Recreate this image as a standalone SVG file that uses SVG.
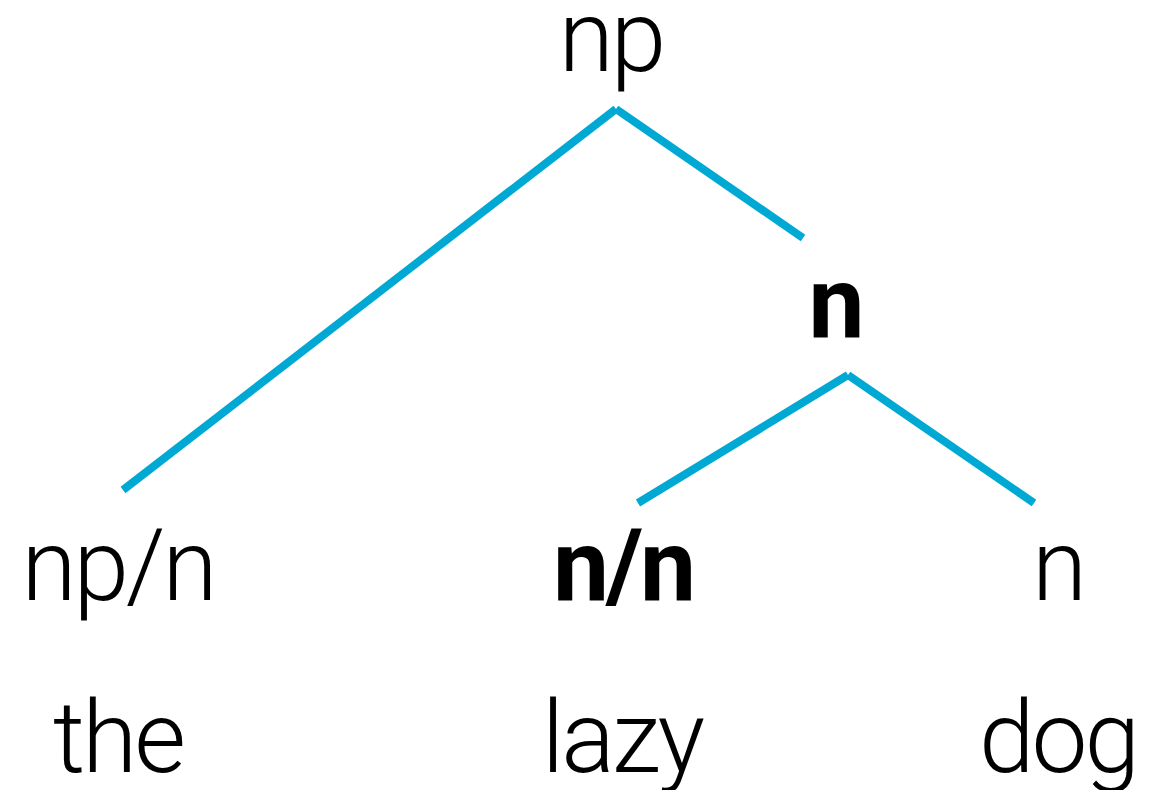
<svg xmlns="http://www.w3.org/2000/svg" width="1169" height="790" viewBox="0 0 1169 790">
<style>
text{font-family:"Roboto","Liberation Sans",sans-serif;font-size:100px;font-weight:300;fill:#000;text-anchor:middle;letter-spacing:-3px}
text.b{font-weight:700}
line{stroke:#00A8D4;stroke-width:8;stroke-linecap:butt}
</style>
<rect width="1169" height="790" fill="#fff"/>
<g id="connectors">
<line x1="616" y1="109" x2="123" y2="490"/>
<line x1="616" y1="109" x2="803" y2="238"/>
<line x1="848" y1="375" x2="638" y2="503"/>
<line x1="848" y1="375" x2="1034" y2="503"/>
</g>
<g id="node-np"><text x="611" y="71">np</text></g>
<g id="node-n-mid"><text class="b" x="835" y="337">n</text></g>
<g id="node-npn"><text x="118" y="600">np/n</text></g>
<g id="node-nn"><text class="b" x="623" y="600">n/n</text></g>
<g id="node-n-right"><text x="1058" y="600">n</text></g>
<g id="word-the"><text x="118" y="772">the</text></g>
<g id="word-lazy"><text x="622" y="772">lazy</text></g>
<g id="word-dog"><text x="1058" y="772">dog</text></g>
</svg>
